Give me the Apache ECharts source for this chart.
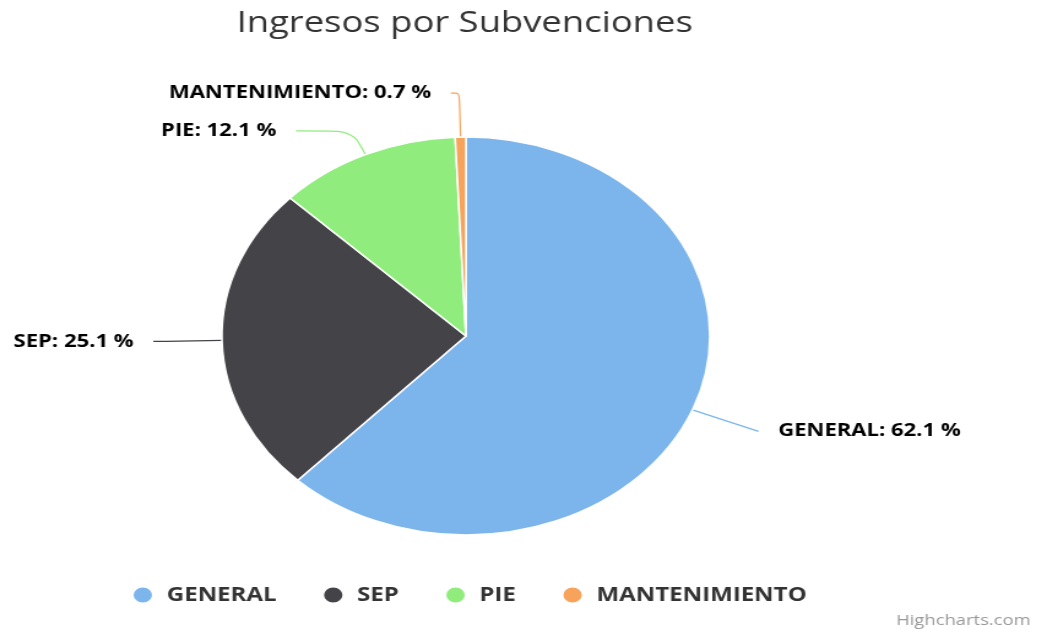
<!DOCTYPE html>
<html>
<head>
<meta charset="utf-8">
<script src="https://cdn.jsdelivr.net/npm/echarts@6/dist/echarts.min.js"></script>
<style>
  html, body { margin: 0; padding: 0; background: #fff; }
  #frame { width: 1041px; height: 630px; overflow: hidden; position: relative; }
  /* the chart is drawn narrower and stretched horizontally */
  #chart { width: 849px; height: 630px; transform: scaleX(1.226); transform-origin: 0 0; }
</style>
</head>
<body>
<div id="frame"><div id="chart"></div></div>
<script>
const chartTitle = 'Ingresos por Subvenciones';
const creditText = 'Highcharts.com';
const categories = ['GENERAL', 'SEP', 'PIE', 'MANTENIMIENTO'];
const shares = [62.1, 25.1, 12.1, 0.7];
const sliceColors = ['#7cb5ec', '#434348', '#90ed7d', '#f7a35c'];

// connector geometry per slice: [radial length, horizontal length]
const connectors = {
  GENERAL: [58, 0],
  SEP: [46, 10],
  PIE: [26, 46],
  MANTENIMIENTO: [44, 7]
};

const font = '"Open Sans", "DejaVu Sans", sans-serif';

const pieData = categories.map((name, i) => ({
  name: name,
  value: shares[i],
  itemStyle: { color: sliceColors[i] },
  labelLine: { length: connectors[name][0], length2: connectors[name][1] }
}));

const chart = echarts.init(document.getElementById('chart'));
chart.setOption({
  animation: false,
  title: [
    {
      text: chartTitle,
      left: 374,
      textAlign: 'center',
      top: 4,
      textStyle: { fontFamily: font, fontSize: 29.7, fontWeight: 'normal', color: '#333333' }
    },
    {
      text: creditText,
      left: 726,
      top: 608,
      textStyle: { fontFamily: font, fontSize: 15, fontWeight: 'normal', color: '#999999' }
    }
  ],
  legend: {
    data: categories,
    orient: 'horizontal',
    left: 102,
    top: 580,
    icon: 'circle',
    itemWidth: 17,
    itemHeight: 17,
    itemGap: 36.7,
    textStyle: { fontFamily: font, fontSize: 19.6, fontWeight: 'bold', color: '#333333', padding: [0, 0, 0, 6] }
  },
  series: [{
    type: 'pie',
    center: [380, 336],
    radius: 199,
    startAngle: 90,
    clockwise: true,
    avoidLabelOverlap: true,
    itemStyle: { borderColor: '#ffffff', borderWidth: 1.5 },
    label: {
      show: true,
      position: 'outside',
      distanceToLabelLine: 16,
      fontFamily: font,
      fontSize: 18,
      fontWeight: 'bold',
      color: '#000000',
      formatter: p => p.name + ': ' + p.value.toFixed(1) + ' %'
    },
    labelLine: {
      show: true,
      smooth: 0.3,
      lineStyle: { width: 1.2 }
    },
    emphasis: { disabled: true },
    data: pieData
  }]
});
</script>
</body>
</html>
